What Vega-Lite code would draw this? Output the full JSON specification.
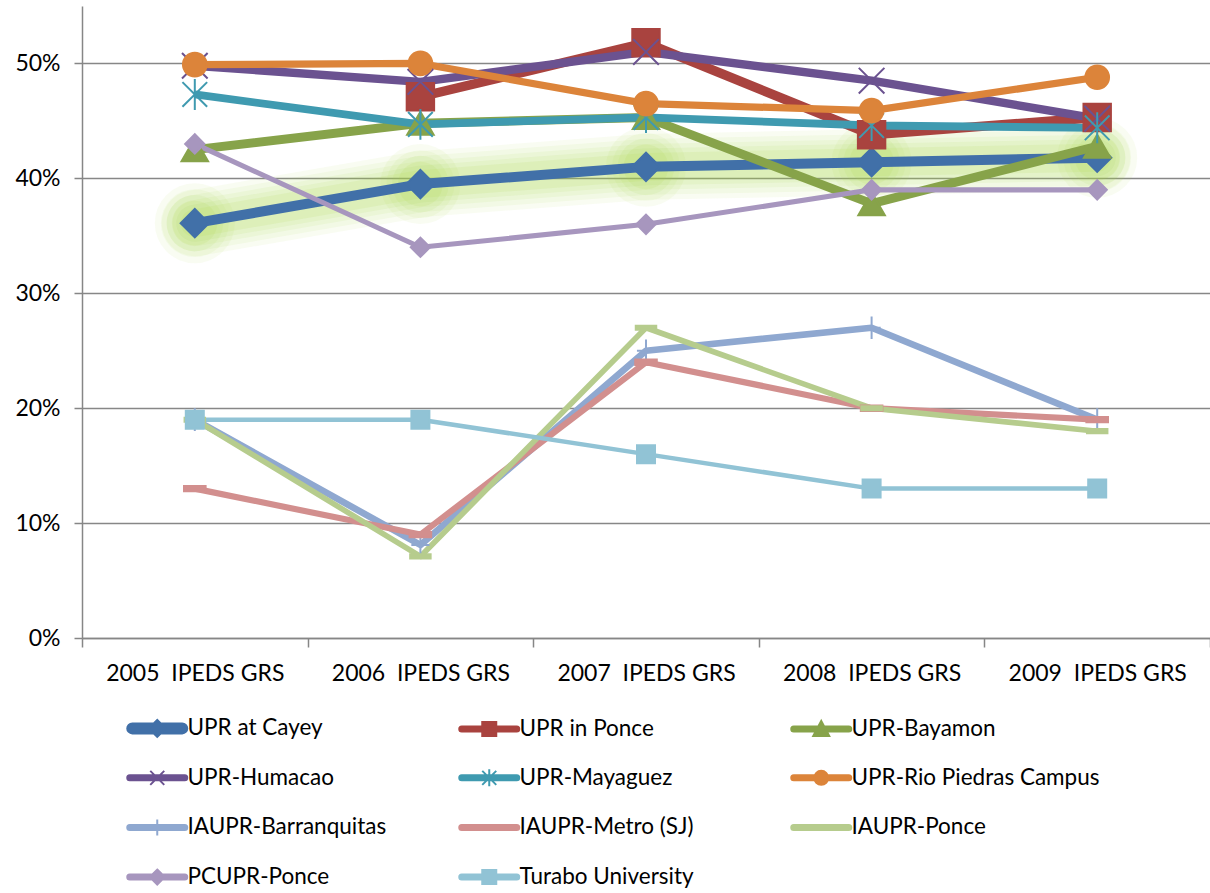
{
  "$schema": "https://vega.github.io/schema/vega-lite/v6.json",
  "width": 1128,
  "height": 632,
  "autosize": {"type": "none"},
  "padding": {"left": 82, "top": 6, "right": 0, "bottom": 255},
  "background": "white",
  "config": {"view": {"stroke": null}, "font": "Lato"},
  "data": {
    "values": [
      {"s": "UPR at Cayey", "yr": "2005\u00a0 IPEDS GRS", "v": 0.361},
      {"s": "UPR at Cayey", "yr": "2006\u00a0 IPEDS GRS", "v": 0.395},
      {"s": "UPR at Cayey", "yr": "2007\u00a0 IPEDS GRS", "v": 0.41},
      {"s": "UPR at Cayey", "yr": "2008\u00a0 IPEDS GRS", "v": 0.414},
      {"s": "UPR at Cayey", "yr": "2009\u00a0 IPEDS GRS", "v": 0.418},
      {"s": "UPR in Ponce", "yr": "2006\u00a0 IPEDS GRS", "v": 0.471},
      {"s": "UPR in Ponce", "yr": "2007\u00a0 IPEDS GRS", "v": 0.518},
      {"s": "UPR in Ponce", "yr": "2008\u00a0 IPEDS GRS", "v": 0.438},
      {"s": "UPR in Ponce", "yr": "2009\u00a0 IPEDS GRS", "v": 0.453},
      {"s": "UPR-Bayamon", "yr": "2005\u00a0 IPEDS GRS", "v": 0.425},
      {"s": "UPR-Bayamon", "yr": "2006\u00a0 IPEDS GRS", "v": 0.448},
      {"s": "UPR-Bayamon", "yr": "2007\u00a0 IPEDS GRS", "v": 0.453},
      {"s": "UPR-Bayamon", "yr": "2008\u00a0 IPEDS GRS", "v": 0.378},
      {"s": "UPR-Bayamon", "yr": "2009\u00a0 IPEDS GRS", "v": 0.428},
      {"s": "UPR-Humacao", "yr": "2005\u00a0 IPEDS GRS", "v": 0.498},
      {"s": "UPR-Humacao", "yr": "2006\u00a0 IPEDS GRS", "v": 0.484},
      {"s": "UPR-Humacao", "yr": "2007\u00a0 IPEDS GRS", "v": 0.51},
      {"s": "UPR-Humacao", "yr": "2008\u00a0 IPEDS GRS", "v": 0.485},
      {"s": "UPR-Humacao", "yr": "2009\u00a0 IPEDS GRS", "v": 0.452},
      {"s": "UPR-Mayaguez", "yr": "2005\u00a0 IPEDS GRS", "v": 0.473},
      {"s": "UPR-Mayaguez", "yr": "2006\u00a0 IPEDS GRS", "v": 0.447},
      {"s": "UPR-Mayaguez", "yr": "2007\u00a0 IPEDS GRS", "v": 0.453},
      {"s": "UPR-Mayaguez", "yr": "2008\u00a0 IPEDS GRS", "v": 0.446},
      {"s": "UPR-Mayaguez", "yr": "2009\u00a0 IPEDS GRS", "v": 0.444},
      {"s": "UPR-Rio Piedras Campus", "yr": "2005\u00a0 IPEDS GRS", "v": 0.499},
      {"s": "UPR-Rio Piedras Campus", "yr": "2006\u00a0 IPEDS GRS", "v": 0.5},
      {"s": "UPR-Rio Piedras Campus", "yr": "2007\u00a0 IPEDS GRS", "v": 0.465},
      {"s": "UPR-Rio Piedras Campus", "yr": "2008\u00a0 IPEDS GRS", "v": 0.459},
      {"s": "UPR-Rio Piedras Campus", "yr": "2009\u00a0 IPEDS GRS", "v": 0.488},
      {"s": "IAUPR-Barranquitas", "yr": "2005\u00a0 IPEDS GRS", "v": 0.19},
      {"s": "IAUPR-Barranquitas", "yr": "2006\u00a0 IPEDS GRS", "v": 0.081},
      {"s": "IAUPR-Barranquitas", "yr": "2007\u00a0 IPEDS GRS", "v": 0.25},
      {"s": "IAUPR-Barranquitas", "yr": "2008\u00a0 IPEDS GRS", "v": 0.27},
      {"s": "IAUPR-Barranquitas", "yr": "2009\u00a0 IPEDS GRS", "v": 0.19},
      {"s": "IAUPR-Metro (SJ)", "yr": "2005\u00a0 IPEDS GRS", "v": 0.13},
      {"s": "IAUPR-Metro (SJ)", "yr": "2006\u00a0 IPEDS GRS", "v": 0.09},
      {"s": "IAUPR-Metro (SJ)", "yr": "2007\u00a0 IPEDS GRS", "v": 0.24},
      {"s": "IAUPR-Metro (SJ)", "yr": "2008\u00a0 IPEDS GRS", "v": 0.2},
      {"s": "IAUPR-Metro (SJ)", "yr": "2009\u00a0 IPEDS GRS", "v": 0.19},
      {"s": "IAUPR-Ponce", "yr": "2005\u00a0 IPEDS GRS", "v": 0.19},
      {"s": "IAUPR-Ponce", "yr": "2006\u00a0 IPEDS GRS", "v": 0.071},
      {"s": "IAUPR-Ponce", "yr": "2007\u00a0 IPEDS GRS", "v": 0.27},
      {"s": "IAUPR-Ponce", "yr": "2008\u00a0 IPEDS GRS", "v": 0.2},
      {"s": "IAUPR-Ponce", "yr": "2009\u00a0 IPEDS GRS", "v": 0.18},
      {"s": "PCUPR-Ponce", "yr": "2005\u00a0 IPEDS GRS", "v": 0.43},
      {"s": "PCUPR-Ponce", "yr": "2006\u00a0 IPEDS GRS", "v": 0.34},
      {"s": "PCUPR-Ponce", "yr": "2007\u00a0 IPEDS GRS", "v": 0.36},
      {"s": "PCUPR-Ponce", "yr": "2008\u00a0 IPEDS GRS", "v": 0.39},
      {"s": "PCUPR-Ponce", "yr": "2009\u00a0 IPEDS GRS", "v": 0.39},
      {"s": "Turabo University", "yr": "2005\u00a0 IPEDS GRS", "v": 0.19},
      {"s": "Turabo University", "yr": "2006\u00a0 IPEDS GRS", "v": 0.19},
      {"s": "Turabo University", "yr": "2007\u00a0 IPEDS GRS", "v": 0.16},
      {"s": "Turabo University", "yr": "2008\u00a0 IPEDS GRS", "v": 0.13},
      {"s": "Turabo University", "yr": "2009\u00a0 IPEDS GRS", "v": 0.13}
    ]
  },
  "encoding": {
    "x": {
      "field": "yr",
      "type": "ordinal",
      "sort": ["2005\u00a0 IPEDS GRS", "2006\u00a0 IPEDS GRS", "2007\u00a0 IPEDS GRS", "2008\u00a0 IPEDS GRS", "2009\u00a0 IPEDS GRS"],
      "scale": {"type": "band", "paddingInner": 0, "paddingOuter": 0},
      "bandPosition": 0.5,
      "axis": {
        "title": null,
        "labelAngle": 0,
        "tickBand": "extent",
        "grid": false,
        "domainColor": "#868686",
        "domainWidth": 1.5,
        "tickColor": "#868686",
        "tickWidth": 1.5,
        "tickSize": 9,
        "labelFont": "Lato",
        "labelFontSize": 23,
        "labelColor": "#000000",
        "labelPadding": 15
      }
    },
    "y": {
      "field": "v",
      "type": "quantitative",
      "scale": {"domain": [0, 0.55], "nice": false, "zero": true},
      "axis": {
        "title": null,
        "values": [0, 0.1, 0.2, 0.3, 0.4, 0.5],
        "format": ".0%",
        "grid": true,
        "gridColor": "#878787",
        "gridWidth": 1.5,
        "domainColor": "#868686",
        "domainWidth": 1.5,
        "tickColor": "#868686",
        "tickWidth": 1.5,
        "tickSize": 8,
        "labelFont": "Lato",
        "labelFontSize": 23,
        "labelColor": "#000000",
        "labelPadding": 14
      }
    }
  },
  "layer": [
    {"transform": [{"filter": "datum.s === 'UPR at Cayey'"}], "mark": {"type": "line", "color": "#a9d94a", "strokeWidth": 66, "opacity": 0.07, "strokeCap": "round", "strokeJoin": "round"}},
    {"transform": [{"filter": "datum.s === 'UPR at Cayey'"}], "mark": {"type": "line", "color": "#a9d94a", "strokeWidth": 56, "opacity": 0.08, "strokeCap": "round", "strokeJoin": "round"}},
    {"transform": [{"filter": "datum.s === 'UPR at Cayey'"}], "mark": {"type": "line", "color": "#a9d94a", "strokeWidth": 46, "opacity": 0.09, "strokeCap": "round", "strokeJoin": "round"}},
    {"transform": [{"filter": "datum.s === 'UPR at Cayey'"}], "mark": {"type": "line", "color": "#a9d94a", "strokeWidth": 37, "opacity": 0.1, "strokeCap": "round", "strokeJoin": "round"}},
    {"transform": [{"filter": "datum.s === 'UPR at Cayey'"}], "mark": {"type": "line", "color": "#a9d94a", "strokeWidth": 28, "opacity": 0.12, "strokeCap": "round", "strokeJoin": "round"}},
    {"transform": [{"filter": "datum.s === 'UPR at Cayey'"}], "mark": {"type": "point", "shape": "circle", "filled": true, "color": "#a9d94a", "size": 6400, "opacity": 0.07}},
    {"transform": [{"filter": "datum.s === 'UPR at Cayey'"}], "mark": {"type": "point", "shape": "circle", "filled": true, "color": "#a9d94a", "size": 4600, "opacity": 0.08}},
    {"transform": [{"filter": "datum.s === 'UPR at Cayey'"}], "mark": {"type": "point", "shape": "circle", "filled": true, "color": "#a9d94a", "size": 3200, "opacity": 0.1}},
    {"transform": [{"filter": "datum.s === 'UPR at Cayey'"}], "mark": {"type": "point", "shape": "circle", "filled": true, "color": "#a9d94a", "size": 2000, "opacity": 0.12}},
    {
      "mark": {"type": "line", "strokeJoin": "round", "strokeCap": "butt"},
      "encoding": {
        "color": {
          "field": "s", "type": "nominal",
          "scale": {
            "domain": ["UPR at Cayey", "UPR in Ponce", "UPR-Bayamon", "UPR-Humacao", "UPR-Mayaguez", "UPR-Rio Piedras Campus", "IAUPR-Barranquitas", "IAUPR-Metro (SJ)", "IAUPR-Ponce", "PCUPR-Ponce", "Turabo University"],
            "range": ["#4170A8", "#A9433F", "#87A34A", "#6B5290", "#3F9AB0", "#DC843A", "#8FA8D0", "#D28F8E", "#B6CC8D", "#A796BE", "#91C3D5"]
          },
          "legend": null
        },
        "strokeWidth": {
          "field": "s", "type": "nominal",
          "scale": {
            "domain": ["UPR at Cayey", "UPR in Ponce", "UPR-Bayamon", "UPR-Humacao", "UPR-Mayaguez", "UPR-Rio Piedras Campus", "IAUPR-Barranquitas", "IAUPR-Metro (SJ)", "IAUPR-Ponce", "PCUPR-Ponce", "Turabo University"],
            "range": [10, 4.5, 4.5, 4.5, 4.5, 4.5, 4.5, 4.5, 4.5, 4.5, 4.5]
          },
          "legend": null
        }
      }
    },
    {
      "mark": {"type": "point", "filled": true, "strokeWidth": 2, "opacity": 1},
      "encoding": {
        "color": {"field": "s", "type": "nominal", "legend": null},
        "stroke": {
          "field": "s", "type": "nominal",
          "scale": {
            "domain": ["UPR at Cayey", "UPR in Ponce", "UPR-Bayamon", "UPR-Humacao", "UPR-Mayaguez", "UPR-Rio Piedras Campus", "IAUPR-Barranquitas", "IAUPR-Metro (SJ)", "IAUPR-Ponce", "PCUPR-Ponce", "Turabo University"],
            "range": ["#4170A8", "#A9433F", "#87A34A", "#6B5290", "#3F9AB0", "#DC843A", "#8FA8D0", "#D28F8E", "#B6CC8D", "#A796BE", "#91C3D5"]
          },
          "legend": null
        },
        "shape": {
          "field": "s", "type": "nominal",
          "scale": {
            "domain": ["UPR at Cayey", "UPR in Ponce", "UPR-Bayamon", "UPR-Humacao", "UPR-Mayaguez", "UPR-Rio Piedras Campus", "IAUPR-Barranquitas", "IAUPR-Metro (SJ)", "IAUPR-Ponce", "PCUPR-Ponce", "Turabo University"],
            "range": ["diamond", "square", "triangle-up", "M-1,-1L1,1M1,-1L-1,1", "M-1,-1L1,1M1,-1L-1,1M0,-1.25V1.25", "circle", "M0,-1V1M-0.8,0H0.8", "M-1,-0.25H1V0.25H-1Z", "M-1,-0.2H1V0.2H-1Z", "diamond", "square"]
          },
          "legend": null
        },
        "size": {
          "field": "s", "type": "nominal",
          "scale": {
            "domain": ["UPR at Cayey", "UPR in Ponce", "UPR-Bayamon", "UPR-Humacao", "UPR-Mayaguez", "UPR-Rio Piedras Campus", "IAUPR-Barranquitas", "IAUPR-Metro (SJ)", "IAUPR-Ponce", "PCUPR-Ponce", "Turabo University"],
            "range": [800, 324, 380, 324, 324, 324, 400, 196, 400, 380, 324]
          },
          "legend": null
        }
      }
    },
    {
      "transform": [{"filter": "datum.v < 0"}],
      "mark": {"type": "point", "filled": true, "strokeWidth": 2},
      "encoding": {
        "color": {
          "field": "s", "type": "nominal",
          "legend": {
            "title": null, "orient": "none", "direction": "horizontal", "legendX": 64, "legendY": 711,
            "columns": 3, "gridAlign": "all", "columnPadding": 19, "rowPadding": 23.6, "padding": 0,
            "symbolSize": 400, "symbolStrokeWidth": 2, "symbolOpacity": 1, "labelOffset": 19,
            "labelFont": "Lato", "labelFontSize": 22.5, "labelColor": "#000000", "labelLimit": 400
          }
        },
        "stroke": {
          "field": "s", "type": "nominal",
          "legend": {
            "title": null, "orient": "none", "direction": "horizontal", "legendX": 64, "legendY": 711,
            "columns": 3, "gridAlign": "all", "columnPadding": 19, "rowPadding": 23.6, "padding": 0,
            "symbolSize": 400, "symbolStrokeWidth": 2, "symbolOpacity": 1, "labelOffset": 19,
            "labelFont": "Lato", "labelFontSize": 22.5, "labelColor": "#000000", "labelLimit": 400
          }
        },
        "shape": {
          "field": "s", "type": "nominal",
          "scale": {
            "domain": ["UPR at Cayey", "UPR in Ponce", "UPR-Bayamon", "UPR-Humacao", "UPR-Mayaguez", "UPR-Rio Piedras Campus", "IAUPR-Barranquitas", "IAUPR-Metro (SJ)", "IAUPR-Ponce", "PCUPR-Ponce", "Turabo University"],
            "range": [
              "M-2.5,-0.5H2.5A0.5,0.5 0 0 1 2.5,0.5H-2.5A0.5,0.5 0 0 1 -2.5,-0.5Z M0,-0.85L0.85,0L0,0.85L-0.85,0Z",
              "M-2.75,-0.25H2.75A0.25,0.25 0 0 1 2.75,0.25H-2.75A0.25,0.25 0 0 1 -2.75,-0.25Z M-0.7,-0.7H0.7V0.7H-0.7Z",
              "M-2.75,-0.25H2.75A0.25,0.25 0 0 1 2.75,0.25H-2.75A0.25,0.25 0 0 1 -2.75,-0.25Z M0,-0.8L0.8,0.7H-0.8Z",
              "M-2.75,-0.25H2.75A0.25,0.25 0 0 1 2.75,0.25H-2.75A0.25,0.25 0 0 1 -2.75,-0.25Z M-0.7,-0.7L0.7,0.7M0.7,-0.7L-0.7,0.7",
              "M-2.75,-0.25H2.75A0.25,0.25 0 0 1 2.75,0.25H-2.75A0.25,0.25 0 0 1 -2.75,-0.25Z M-0.7,-0.7L0.7,0.7M0.7,-0.7L-0.7,0.7M0,-0.85V0.85",
              "M-2.75,-0.25H2.75A0.25,0.25 0 0 1 2.75,0.25H-2.75A0.25,0.25 0 0 1 -2.75,-0.25Z M0.7,0A0.7,0.7 0 1 1 -0.7,0A0.7,0.7 0 1 1 0.7,0Z",
              "M-2.75,-0.25H2.75A0.25,0.25 0 0 1 2.75,0.25H-2.75A0.25,0.25 0 0 1 -2.75,-0.25Z M0,-0.8V0.8",
              "M-2.75,-0.25H2.75A0.25,0.25 0 0 1 2.75,0.25H-2.75A0.25,0.25 0 0 1 -2.75,-0.25Z",
              "M-2.75,-0.25H2.75A0.25,0.25 0 0 1 2.75,0.25H-2.75A0.25,0.25 0 0 1 -2.75,-0.25Z",
              "M-2.75,-0.25H2.75A0.25,0.25 0 0 1 2.75,0.25H-2.75A0.25,0.25 0 0 1 -2.75,-0.25Z M0,-0.75L0.75,0L0,0.75L-0.75,0Z",
              "M-2.75,-0.25H2.75A0.25,0.25 0 0 1 2.75,0.25H-2.75A0.25,0.25 0 0 1 -2.75,-0.25Z M-0.7,-0.7H0.7V0.7H-0.7Z"
            ]
          },
          "legend": {
            "title": null, "orient": "none", "direction": "horizontal", "legendX": 64, "legendY": 711,
            "columns": 3, "gridAlign": "all", "columnPadding": 19, "rowPadding": 23.6, "padding": 0,
            "symbolSize": 400, "symbolStrokeWidth": 2, "symbolOpacity": 1, "labelOffset": 19,
            "labelFont": "Lato", "labelFontSize": 22.5, "labelColor": "#000000", "labelLimit": 400
          }
        }
      }
    }
  ],
  "resolve": {
    "scale": {"shape": "independent", "size": "independent"},
    "legend": {"shape": "independent", "color": "independent", "stroke": "independent"}
  }
}
